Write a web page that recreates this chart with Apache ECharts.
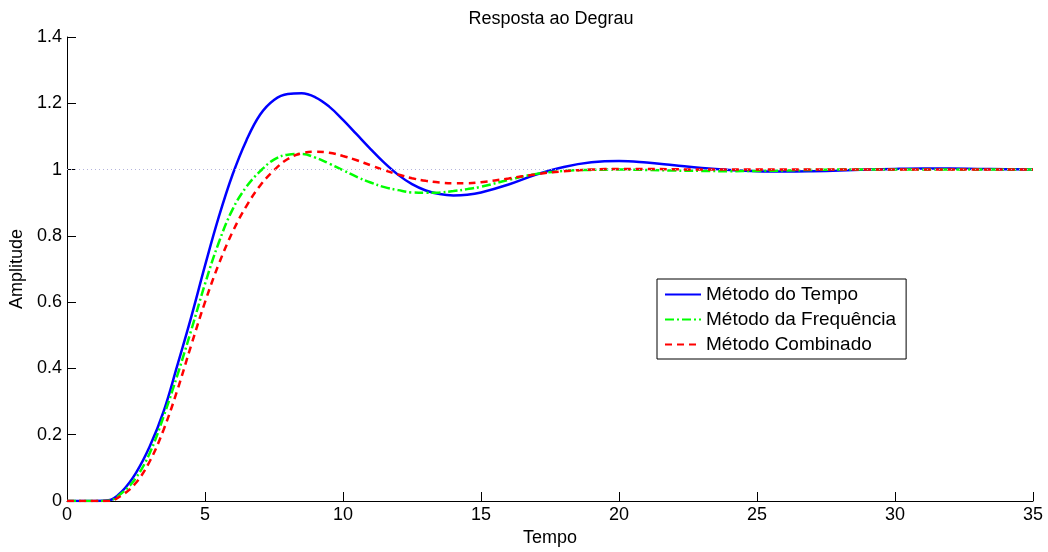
<!DOCTYPE html>
<html>
<head>
<meta charset="utf-8">
<script src="https://cdn.jsdelivr.net/npm/echarts@6/dist/echarts.min.js"></script>
<style>
html,body{margin:0;padding:0;background:#fff;}
#chart{width:1048px;height:552px;}
</style>
</head>
<body>
<div id="chart"></div>
<script>
var time = [0,0.5,1,1.5,2,2.5,3,3.5,4,4.5,5,5.5,6,6.5,7,7.5,8,8.5,9,9.5,10,10.5,11,11.5,12,12.5,13,13.5,14,14.5,15,16,17,18,19,20,21,22,23,24,25,26,27,28,29,30,31,32,33,34,35];
var metodoTempo = [0,0,0,0.002,0.03,0.085,0.165,0.27,0.41,0.555,0.71,0.857,0.985,1.088,1.166,1.21,1.228,1.23,1.218,1.19,1.15,1.106,1.062,1.02,0.984,0.956,0.937,0.926,0.922,0.924,0.931,0.955,0.985,1.008,1.022,1.026,1.021,1.013,1.005,0.999,0.995,0.994,0.995,0.997,1.0,1.002,1.003,1.003,1.002,1.001,1.0];
var metodoFrequencia = [0,0,0,0.001,0.025,0.07,0.145,0.255,0.38,0.515,0.655,0.78,0.88,0.948,0.995,1.03,1.045,1.047,1.036,1.018,0.998,0.978,0.961,0.947,0.938,0.931,0.93,0.931,0.935,0.941,0.948,0.969,0.987,0.996,0.999,1.0,0.999,0.997,0.996,0.995,0.996,0.997,0.999,1.0,1.0,1.0,1.0,1.0,1.0,1.0,1.0];
var metodoCombinado = [0,0,0,0,0.018,0.055,0.12,0.215,0.335,0.47,0.6,0.715,0.812,0.89,0.952,0.998,1.032,1.049,1.054,1.051,1.041,1.028,1.013,0.998,0.985,0.974,0.966,0.961,0.959,0.959,0.962,0.973,0.986,0.995,1.0,1.002,1.002,1.001,1.0,1.0,1.0,1.0,1.0,1.0,1.0,1.0,1.0,1.0,1.0,1.0,1.0];
var seriesNames = ['Método do Tempo','Método da Frequência','Método Combinado'];
var xTicks = [0,5,10,15,20,25,30,35];
var yTicks = [0,0.2,0.4,0.6,0.8,1,1.2,1.4];

function pairs(vals){ return time.map(function(t,i){ return [t, vals[i]]; }); }

var chart = echarts.init(document.getElementById('chart'), null, {renderer:'canvas'});
var font = 'Liberation Sans, Arial, sans-serif';
chart.setOption({
  animation:false,
  backgroundColor:'#fff',
  title:{text:'Resposta ao Degrau', left:546, top:5, textAlign:'center',
    textStyle:{fontFamily:font, fontSize:18, fontWeight:'normal', color:'#000'}},
  grid:{left:67, right:15, top:37, bottom:47, containLabel:false},
  legend:{orient:'vertical', left:657, top:279, itemWidth:36, itemHeight:19, itemGap:6,
    padding:[6,10,5,7], borderColor:'#000', borderWidth:1, backgroundColor:'#fff',
    itemStyle:{opacity:0},
    textStyle:{fontFamily:font, fontSize:19, lineHeight:19, color:'#000'},
    data:seriesNames},
  xAxis:{type:'value', min:xTicks[0], max:xTicks[xTicks.length-1], interval:5,
    name:'Tempo', nameLocation:'middle', nameGap:28,
    nameTextStyle:{fontFamily:font, fontSize:18, color:'#000'},
    axisLine:{lineStyle:{color:'#000', width:1}},
    axisTick:{inside:true, length:9, lineStyle:{color:'#000'}},
    axisLabel:{fontFamily:font, fontSize:18, color:'#000', margin:5},
    splitLine:{show:false}},
  yAxis:{type:'value', min:yTicks[0], max:yTicks[yTicks.length-1], interval:0.2,
    name:'Amplitude', nameLocation:'middle', nameGap:33, nameRotate:90,
    nameTextStyle:{fontFamily:font, fontSize:18, color:'#000'},
    axisLine:{show:true, lineStyle:{color:'#000', width:1}},
    axisTick:{show:true, inside:true, length:9, lineStyle:{color:'#000'}},
    axisLabel:{fontFamily:font, fontSize:18, color:'#000', margin:5},
    splitLine:{show:false}},
  series:[
    {name:seriesNames[0], type:'line', smooth:0.4, symbol:'none', data:pairs(metodoTempo), z:2,
      lineStyle:{color:'#0000ff', width:2.5, type:'solid'}, itemStyle:{color:'#0000ff'},
      markLine:{silent:true, symbol:'none', label:{show:false},
        lineStyle:{color:'#b4b4dc', width:1, type:[1,3]}, data:[{yAxis:1}]}},
    {name:seriesNames[1], type:'line', smooth:0.4, symbol:'none', data:pairs(metodoFrequencia), z:3,
      lineStyle:{color:'#00ff00', width:2.5, type:[9,3,2,3]}, itemStyle:{color:'#00ff00'}},
    {name:seriesNames[2], type:'line', smooth:0.4, symbol:'none', data:pairs(metodoCombinado), z:4,
      lineStyle:{color:'#ff0000', width:2.5, type:[7,5]}, itemStyle:{color:'#ff0000'}}
  ]
});
</script>
</body>
</html>
